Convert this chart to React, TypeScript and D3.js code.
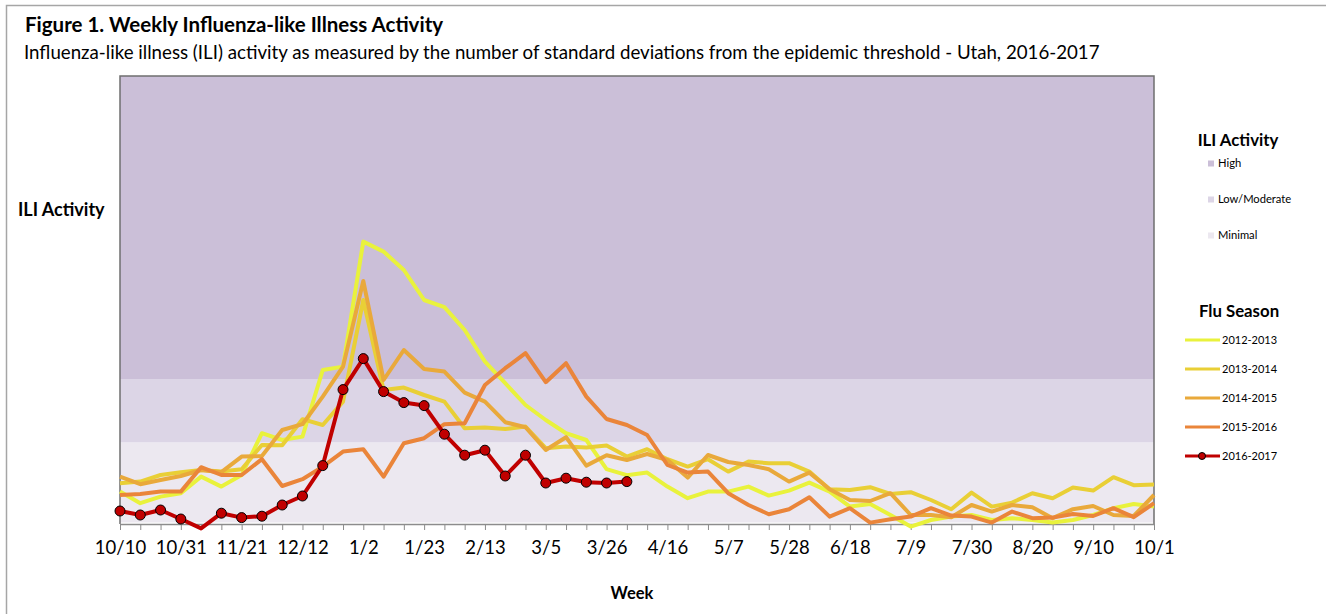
import { useEffect, useRef } from "react";
import * as d3 from "d3";

const WIDTH = 1326;
const HEIGHT = 614;

// labels shown every third week, starting with week 0
const weekLabels = [
  "10/10", "10/31", "11/21", "12/12", "1/2", "1/23", "2/13", "3/5", "3/26",
  "4/16", "5/7", "5/28", "6/18", "7/9", "7/30", "8/20", "9/10", "10/1",
];

// ILI activity (SD from threshold), 52 weeks each
const season2012 = [
  1.62, 1.04, 1.37, 1.54, 2.37, 1.87, 2.45, 4.54, 4.2, 4.37, 7.7, 7.87, 14.12,
  13.62, 12.7, 11.2, 10.84, 9.7, 8.12, 7.04, 5.95, 5.2, 4.54, 4.2, 2.74, 2.44,
  2.57, 1.87, 1.29, 1.62, 1.62, 1.87, 1.42, 1.67, 2.07, 1.62, 0.87, 1.0, 0.45,
  -0.13, 0.2, 0.37, 0.45, 0.2, 0.29, 0.2, 0.07, 0.2, 0.45, 0.79, 1.0, 0.87,
];
const season2013 = [
  2.04, 2.12, 2.45, 2.59, 2.7, 2.62, 2.74, 3.95, 3.94, 5.24, 4.95, 6.12, 11.2,
  6.7, 6.82, 6.45, 6.12, 4.79, 4.82, 4.75, 4.87, 3.79, 3.87, 3.82, 3.92, 3.37,
  3.74, 3.24, 2.87, 3.24, 2.62, 3.12, 3.04, 3.04, 2.62, 1.74, 1.7, 1.84, 1.5,
  1.59, 1.2, 0.74, 1.57, 0.87, 1.07, 1.54, 1.29, 1.82, 1.67, 2.34, 1.94, 1.97,
];
const season2014 = [
  2.37, 1.99, 2.2, 2.4, 2.7, 2.59, 3.37, 3.4, 4.7, 4.99, 6.37, 7.87, 12.15, 7.2,
  8.7, 7.75, 7.62, 6.57, 6.12, 5.09, 4.84, 3.7, 4.34, 2.92, 3.44, 3.2, 3.5, 3.2,
  2.32, 3.45, 3.1, 2.95, 2.74, 2.12, 2.57, 1.74, 1.2, 1.15, 1.54, 0.45, 0.45,
  0.34, 0.95, 0.62, 0.95, 0.84, 0.29, 0.74, 0.9, 0.45, 0.4, 1.45,
];
const season2015 = [
  1.45, 1.5, 1.62, 1.62, 2.84, 2.45, 2.45, 3.24, 1.9, 2.24, 2.87, 3.62, 3.74,
  2.37, 4.04, 4.29, 4.99, 5.04, 6.95, 7.79, 8.54, 7.09, 8.04, 6.37, 5.25, 4.95,
  4.45, 2.95, 2.57, 2.62, 1.54, 0.95, 0.49, 0.74, 1.34, 0.37, 0.79, 0.07, 0.24,
  0.37, 0.79, 0.42, 0.37, 0.07, 0.62, 0.29, 0.32, 0.5, 0.4, 0.79, 0.34, 1.04,
];
// current season, reported through week 25
const season2016 = [
  0.65, 0.45, 0.7, 0.25, -0.22, 0.54, 0.32, 0.39, 0.95, 1.4, 2.92, 6.72, 8.27,
  6.62, 6.07, 5.92, 4.49, 3.44, 3.69, 2.4, 3.44, 2.05, 2.29, 2.09, 2.05, 2.12,
];

const seasonNames = ["2012-2013", "2013-2014", "2014-2015", "2015-2016", "2016-2017"];
const seasonValues = [season2012, season2013, season2014, season2015, season2016];
const seasonColors = ["#e9f23c", "#e9cf36", "#e9a93b", "#ea853a", "#c00000"];

// activity levels and their lower bounds
const levelNames = ["High", "Low/Moderate", "Minimal"];
const levelFloors = [7.25, 4.07, 0];
const levelColors = ["#cbbfd8", "#dcd5e6", "#ece8f0"];
const yMax = 22.4;

const FONT = "Lato, 'Open Sans', sans-serif";

const App = () => {
  const svgRef = useRef<SVGSVGElement | null>(null);

  useEffect(() => {
    const svg = d3.select(svgRef.current);
    svg.selectAll("*").remove();

    const plot = { left: 120, right: 1154, top: 76, bottom: 524 };
    const x = d3.scaleLinear().domain([0, 51]).range([plot.left, plot.right]);
    const y = d3.scaleLinear().domain([0, yMax]).range([plot.bottom, plot.top]);

    svg
      .append("rect")
      .attr("x", 6.5)
      .attr("y", 5.5)
      .attr("width", WIDTH + 20)
      .attr("height", HEIGHT + 20)
      .attr("fill", "#fff")
      .attr("stroke", "#a6a6a6")
      .attr("stroke-width", 1.5);

    svg
      .append("text")
      .attr("x", 25)
      .attr("y", 32)
      .attr("font-family", FONT)
      .attr("font-weight", "bold")
      .attr("font-size", 20.5)
      .attr("fill", "#000")
      .text("Figure 1. Weekly Influenza-like Illness Activity");

    svg
      .append("text")
      .attr("x", 24)
      .attr("y", 59)
      .attr("font-family", FONT)
      .attr("font-size", 18.7)
      .attr("fill", "#000")
      .text(
        "Influenza-like illness (ILI) activity as measured by the number of standard deviations from the epidemic threshold - Utah, 2016-2017"
      );

    // activity bands
    levelNames.forEach((name, i) => {
      const top = i === 0 ? yMax : levelFloors[i - 1];
      svg
        .append("rect")
        .attr("x", plot.left)
        .attr("y", y(top))
        .attr("width", plot.right - plot.left)
        .attr("height", y(levelFloors[i]) - y(top) - (i === levelNames.length - 1 ? 1.5 : 0))
        .attr("fill", levelColors[i]);
    });

    // frame of the plot area
    svg
      .append("path")
      .attr("d", `M${plot.left},${plot.bottom}V${plot.top}H${plot.right}V${plot.bottom}`)
      .attr("fill", "none")
      .attr("stroke", "#6f6f6f")
      .attr("stroke-width", 1.5);

    const xAxis = d3
      .axisBottom(x)
      .tickValues(d3.range(52))
      .tickSize(6)
      .tickSizeOuter(0)
      .tickPadding(11)
      .tickFormat((d) => {
        const n = Number(d);
        return n % 3 === 0 ? weekLabels[n / 3] : "";
      });

    const gx = svg
      .append("g")
      .attr("transform", `translate(0,${plot.bottom})`)
      .call(xAxis);
    gx.select(".domain").attr("stroke", "#8c8c8c").attr("stroke-width", 1.5);
    gx.selectAll(".tick line").attr("stroke", "#8c8c8c");
    gx.selectAll(".tick text")
      .attr("font-family", FONT)
      .attr("font-size", 18.5)
      .attr("fill", "#000");

    const line = d3
      .line<number>()
      .x((_, i) => x(i))
      .y((d) => y(d));

    seasonValues.forEach((values, k) => {
      svg
        .append("path")
        .datum(values)
        .attr("fill", "none")
        .attr("stroke", seasonColors[k])
        .attr("stroke-width", 4)
        .attr("stroke-linejoin", "round")
        .attr("d", line);
    });

    const current = seasonValues[seasonValues.length - 1];
    svg
      .append("g")
      .selectAll("circle")
      .data(current.map((v, i) => ({ v, i })).filter((d) => d.v >= 0))
      .join("circle")
      .attr("cx", (d) => x(d.i))
      .attr("cy", (d) => y(d.v))
      .attr("r", 5)
      .attr("fill", "#c00000")
      .attr("stroke", "#000")
      .attr("stroke-width", 1);

    // axis titles
    svg
      .append("text")
      .attr("x", 18)
      .attr("y", 216)
      .attr("font-family", FONT)
      .attr("font-weight", "bold")
      .attr("font-size", 18)
      .text("ILI Activity");

    svg
      .append("text")
      .attr("x", (plot.left + plot.right) / 2 - 5)
      .attr("y", 599)
      .attr("text-anchor", "middle")
      .attr("font-family", FONT)
      .attr("font-weight", "bold")
      .attr("font-size", 16.5)
      .text("Week");

    // legend: activity levels
    const lg = svg.append("g");
    lg.append("text")
      .attr("x", 1238)
      .attr("y", 146)
      .attr("text-anchor", "middle")
      .attr("font-family", FONT)
      .attr("font-weight", "bold")
      .attr("font-size", 16.8)
      .text("ILI Activity");

    levelNames.forEach((name, i) => {
      const cy = 163.5 + i * 36;
      lg.append("rect")
        .attr("x", 1208)
        .attr("y", cy - 3)
        .attr("width", 6)
        .attr("height", 6)
        .attr("fill", levelColors[i]);
      lg.append("text")
        .attr("x", 1218)
        .attr("y", cy)
        .attr("dy", "0.35em")
        .attr("font-family", FONT)
        .attr("font-size", 11.2)
        .text(name);
    });

    // legend: seasons
    lg.append("text")
      .attr("x", 1239)
      .attr("y", 317)
      .attr("text-anchor", "middle")
      .attr("font-family", FONT)
      .attr("font-weight", "bold")
      .attr("font-size", 16.8)
      .text("Flu Season");

    seasonNames.forEach((name, k) => {
      const cy = 340 + k * 29;
      lg.append("line")
        .attr("x1", 1185)
        .attr("x2", 1220)
        .attr("y1", cy)
        .attr("y2", cy)
        .attr("stroke", seasonColors[k])
        .attr("stroke-width", 3);
      if (k === seasonNames.length - 1) {
        lg.append("circle")
          .attr("cx", 1202)
          .attr("cy", cy)
          .attr("r", 3.5)
          .attr("fill", "#c00000")
          .attr("stroke", "#000")
          .attr("stroke-width", 1);
      }
      lg.append("text")
        .attr("x", 1222)
        .attr("y", cy)
        .attr("dy", "0.35em")
        .attr("font-family", FONT)
        .attr("font-size", 11)
        .text(name);
    });
  }, []);

  return (
    <svg
      ref={svgRef}
      width={WIDTH}
      height={HEIGHT}
      style={{ position: "absolute", left: 0, top: 0, display: "block" }}
    />
  );
};

export default App;
